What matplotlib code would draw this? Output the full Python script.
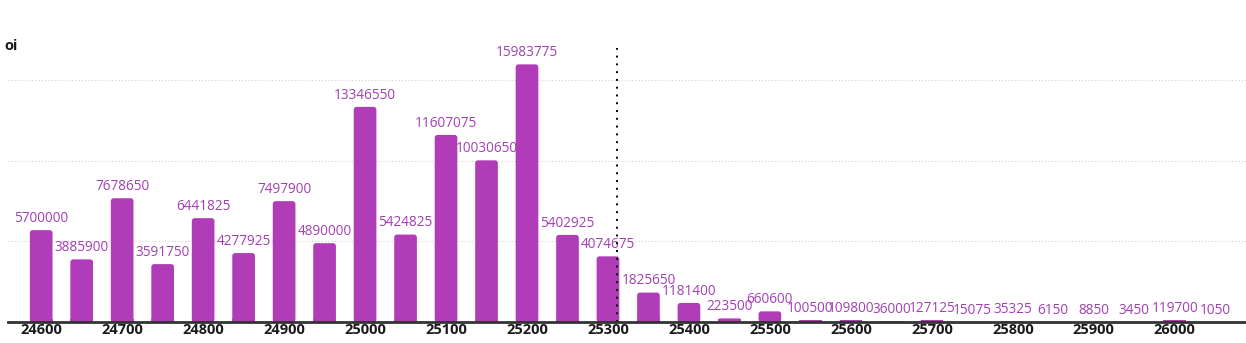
import numpy as np
import matplotlib.pyplot as plt
from matplotlib.patches import FancyBboxPatch

strikes = np.arange(24600, 26051, 50)
oi = [5700000, 3885900, 7678650, 3591750, 6441825, 4277925, 7497900, 4890000,
      13346550, 5424825, 11607075, 10030650, 15983775, 5402925, 4074675,
      1825650, 1181400, 223500, 660600, 100500, 109800, 36000, 127125,
      15075, 35325, 6150, 8850, 3450, 119700, 1050]
spot = 25311
tick_strikes = np.arange(24600, 26001, 100)

bar_color = "#b03cb8"
label_color = "#a23fb3"

plt.rcParams['font.family'] = ['Open Sans', 'DejaVu Sans']

fig = plt.figure(figsize=(12.46, 3.43), dpi=100)
ax = fig.add_axes([8 / 1246, 21 / 343, 1 - 8 / 1246, (322 - 48) / 343])

xmin, xmax = 24559, 26088
ymin, ymax = 0, 17.0e6
ax.set_xlim(xmin, xmax)
ax.set_ylim(ymin, ymax)

# rounded bars: aspect ratio between y-units and x-units per pixel
bbox = ax.get_position()
px_w = bbox.width * 1246
px_h = bbox.height * 343
aspect = ((ymax - ymin) / px_h) / ((xmax - xmin) / px_w)

width = 28
for s, v in zip(strikes, oi):
    r = min(3.5, v / aspect / 2) if v > 0 else 0
    patch = FancyBboxPatch((s - width / 2, 0), width, v,
                           boxstyle=f"round,pad=0,rounding_size={r}",
                           mutation_aspect=aspect,
                           facecolor=bar_color, edgecolor="none", zorder=3)
    ax.add_patch(patch)
    ax.annotate(str(v), (s, v), xytext=(0, 3), textcoords="offset points",
                ha="center", va="bottom", fontsize=9.8, color=label_color,
                zorder=4)

# flat bottoms under rounded corners
ax.bar(strikes, [min(v, 2e5) for v in oi], width=width, color=bar_color,
       zorder=3)

ax.axvline(spot, color="black", linestyle=(0, (1, 3)), linewidth=1.4, zorder=5)

ax.set_yticks([5e6, 10e6, 15e6])
ax.yaxis.grid(True, color="#d0d0d0", linestyle=(0, (1, 2)), linewidth=0.8)
ax.tick_params(axis="y", left=False, labelleft=False)

ax.set_xticks(tick_strikes)
ax.set_xticklabels([str(t) for t in tick_strikes], fontsize=10.5,
                   fontweight="bold", color="#1a1a1a")
ax.tick_params(axis="x", length=0, pad=1)

for side in ["top", "right", "left"]:
    ax.spines[side].set_visible(False)
ax.spines["bottom"].set_color("#333333")
ax.spines["bottom"].set_linewidth(2)
ax.spines["bottom"].set_zorder(6)

fig.text(4 / 1246, 1 - 46 / 343, "oi", fontsize=10.5, fontweight="bold",
         color="#1a1a1a", ha="left", va="center")

fig.savefig("out.png", dpi=100)
